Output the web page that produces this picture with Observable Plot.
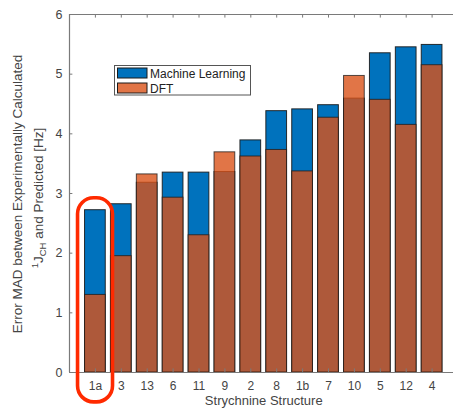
<!DOCTYPE html>
<html><head><meta charset="utf-8">
<script src="https://cdn.jsdelivr.net/npm/d3@7"></script>
<script src="https://cdn.jsdelivr.net/npm/@observablehq/plot@0.6"></script>
<style>
body{margin:0;background:#fff;overflow:hidden}
#chart{position:relative;width:453px;height:408px;overflow:hidden}
</style>
</head><body><div id="chart"></div>
<script>
const structures = ["1a","3","13","6","11","9","2","8","1b","7","10","5","12","4"];
const machineLearning = [2.72,2.82,3.18,3.35,3.35,3.36,3.89,4.38,4.41,4.48,4.59,5.35,5.45,5.49];
const dft = [1.30,1.95,3.32,2.93,2.30,3.69,3.62,3.73,3.37,4.27,4.97,4.57,4.15,5.15];
const yTicks = [0,1,2,3,4,5,6];
const seriesNames = ["Machine Learning","DFT"];
const seriesColors = ["#0072BD","#D95319"];
const highlighted = "1a";
const xLabel = "Strychnine Structure";

const rows = structures.map((s,i)=>({s, i: i+1, ml: machineLearning[i], dft: dft[i]}));
const xTicks = rows.map(r=>r.i);
const axisColor = "#7a7a7a";
const textColor = "#444";
const font = "'Liberation Sans', Arial, Helvetica, sans-serif";
const hl = rows.find(r=>r.s===highlighted);

const plot = Plot.plot({
  width: 453, height: 408,
  marginLeft: 69, marginRight: 0, marginTop: 14, marginBottom: 36,
  style: {fontFamily: font, background: "#fff", color: textColor},
  x: {type: "linear", domain: [0, 15], range: [69, 457.5]},
  y: {domain: [0, 6], range: [372, 14]},
  marks: [
    Plot.rectY(rows, {x1: d=>d.i-0.4, x2: d=>d.i+0.4, y1: 0, y2: "ml", fill: seriesColors[0], stroke: "#1a1a1a", strokeWidth: 1, strokeOpacity: 0.9}),
    Plot.rectY(rows, {x1: d=>d.i-0.4, x2: d=>d.i+0.4, y1: 0, y2: "dft", fill: seriesColors[1], fillOpacity: 0.8, stroke: "#1a1a1a", strokeWidth: 1, strokeOpacity: 0.75}),
    Plot.ruleY([0,6], {x1: 0, x2: 15, stroke: axisColor, strokeWidth: 1.2}),
    Plot.ruleX([0], {y1: 0, y2: 6, stroke: axisColor, strokeWidth: 1.2}),
    Plot.ruleX(xTicks, {x: d=>d, y1: 0, y2: 0.06, stroke: axisColor}),
    Plot.ruleX(xTicks, {x: d=>d, y1: 6, y2: 5.94, stroke: axisColor}),
    Plot.ruleY(yTicks, {y: d=>d, x1: 0, x2: 0.13, stroke: axisColor}),
    Plot.axisX(xTicks, {tickSize: 0, tickPadding: 9, tickFormat: i=>structures[i-1], fontSize: 12, label: null}),
    Plot.axisY(yTicks, {tickSize: 0, tickPadding: 7, tickFormat: d=>String(d), fontSize: 12.5, label: null}),
    Plot.text([xLabel], {x: 7.5, y: 0, dy: 28, text: d=>d, fontSize: 13, fill: textColor, lineAnchor: "middle"}),
    Plot.rect([hl], {x1: d=>d.i-0.67, x2: d=>d.i+0.68, y1: -0.5, y2: d=>d.ml+0.2, rx: 16, fill: "none", stroke: "#ff2a00", strokeWidth: 3.6})
  ]
});

const svg = d3.select(plot);
// y-axis label (two lines with sub/superscript)
const yl = svg.append("g").attr("font-family", font).attr("font-size", 13.5).attr("fill", textColor).attr("text-anchor", "middle");
yl.append("text").attr("transform", "translate(22,194) rotate(-90)").text("Error MAD between Experimentally Calculated");
const t2 = yl.append("text").attr("transform", "translate(43,198) rotate(-90)");
t2.append("tspan").attr("font-size", 9.5).attr("dy", -5).text("1");
t2.append("tspan").attr("dy", 5).text("J");
t2.append("tspan").attr("font-size", 9.5).attr("dy", 3).text("CH");
t2.append("tspan").attr("dy", -3).text(" and Predicted [Hz]");

// legend
const lg = svg.append("g").attr("font-family", font).attr("font-size", 12).attr("fill", "#222").attr("text-anchor", "start");
lg.append("rect").attr("x", 114.5).attr("y", 65.5).attr("width", 136).attr("height", 29.5).attr("fill", "#fff").attr("stroke", "#555").attr("stroke-width", 1);
seriesNames.forEach((name, k) => {
  const y = 68 + k*15;
  lg.append("rect").attr("x", 117.5).attr("y", y).attr("width", 29.5).attr("height", 10)
    .attr("fill", seriesColors[k]).attr("fill-opacity", k ? 0.8 : 1).attr("stroke", "#1a1a1a").attr("stroke-width", 1);
  lg.append("text").attr("x", 150).attr("y", y + 9.5).attr("text-anchor", "start").text(name);
});

document.getElementById("chart").appendChild(plot);
</script>
</body></html>
